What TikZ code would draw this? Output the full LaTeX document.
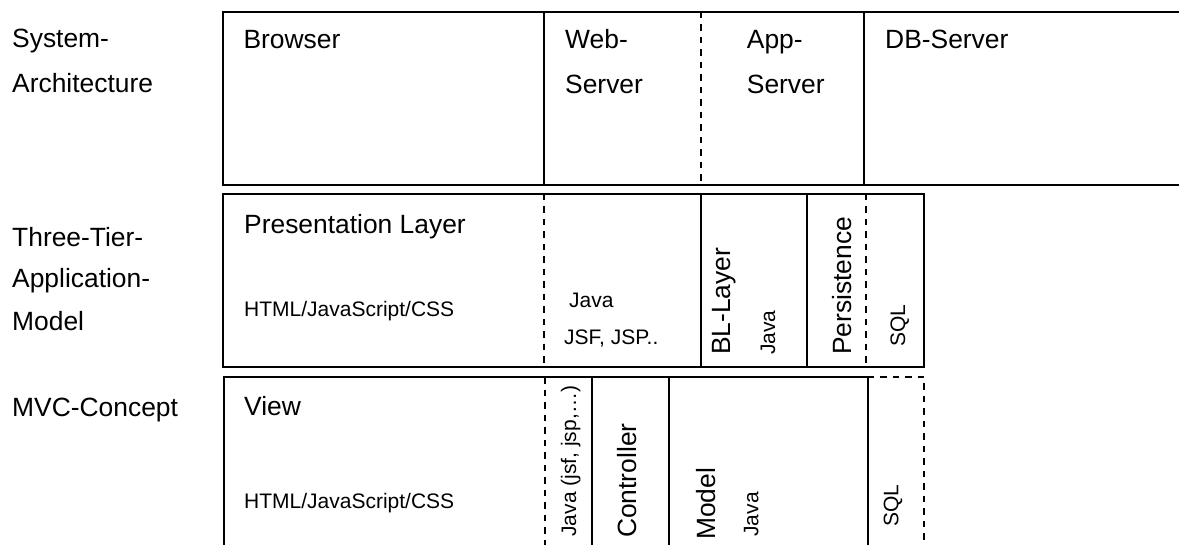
\documentclass[tikz,border=0pt]{standalone}
\usepackage{fontspec}
\setmainfont{Liberation Sans}
\begin{document}
\begin{tikzpicture}[x=1pt,y=-1pt,
  frame/.style={draw=black,line width=2pt},
  sep/.style={dash pattern=on 6.5pt off 6pt},
  big/.style={font=\fontsize{26.4}{30}\selectfont,inner sep=0pt,anchor=base west},
  small/.style={font=\fontsize{21}{24}\selectfont,inner sep=0pt,anchor=base west},
  up/.style={rotate=90}]
\useasboundingbox (0,0) rectangle (1179,544);
\clip (0,0) rectangle (1179,544);

% row labels
\node[big] (sys1) at (12,47) {System-};
\node[big] (sys2) at (12,92) {Architecture};
\node[big] (tt1) at (12,246) {Three-Tier-};
\node[big] (tt2) at (12,287) {Application-};
\node[big] (tt3) at (12,330) {Model};
\node[big] (mvc) at (12,416) {MVC-Concept};

% system architecture
\draw[frame] (1200,11.7) -- (222.7,11.7) -- (222.7,185) -- (1200,185);
\draw[frame] (543.7,11.7) -- (543.7,185);
\draw[frame,sep] (700.7,11.7) -- (700.7,185);
\draw[frame] (864.3,11.7) -- (864.3,185);
\node[big] (browser) at (243.3,48.3) {Browser};
\node[big] (web1) at (565,48.3) {Web-};
\node[big] (web2) at (565,93.3) {Server};
\node[big] (app1) at (746.7,48.3) {App-};
\node[big] (app2) at (746.7,93.3) {Server};
\node[big] (db) at (885,48.3) {DB-Server};

% three-tier application model
\draw[frame] (223,193.5) rectangle (924.3,366.7);
\draw[frame,sep] (544,193.5) -- (544,366.7);
\draw[frame] (701,193.5) -- (701,366.7);
\draw[frame] (806.7,193.5) -- (806.7,366.7);
\draw[frame,sep] (866,193.5) -- (866,366.7);
\node[big] (pres) at (244,233.6) {Presentation Layer};
\node[small] (presT) at (244,316) {HTML/JavaScript/CSS};
\node[small] (webJ) at (569,307.3) {Java};
\node[small] (webT) at (564,344) {JSF, JSP..};
\node[big,up] (bl) at (730,355) {BL-Layer};
\node[small,up] (blT) at (775,355) {Java};
\node[big,up] (pers) at (851.7,355) {Persistence};
\node[small,up] (sql1) at (905,346.7) {SQL};

% MVC concept
\draw[frame] (224,560) -- (224,377.3) -- (867.7,377.3) -- (867.7,560);
\draw[frame,sep] (545,377.3) -- (545,560);
\draw[frame] (591.7,377.3) -- (591.7,560);
\draw[frame] (669.3,377.3) -- (669.3,560);
\draw[frame,sep] (867.7,377.3) -- (924.3,377.3) -- (924.3,560);
\node[big] (view) at (244,415.8) {View};
\node[small] (viewT) at (244,508.6) {HTML/JavaScript/CSS};
\node[small,up] (ctlT) at (576,536.7) {Java (jsf, jsp,…)};
\node[big,up] (ctl) at (636.7,538) {Controller};
\node[big,up] (model) at (715,540) {Model};
\node[small,up] (modelT) at (758.3,536.7) {Java};
\node[small,up] (sql2) at (898.3,526.7) {SQL};
\end{tikzpicture}
\end{document}
